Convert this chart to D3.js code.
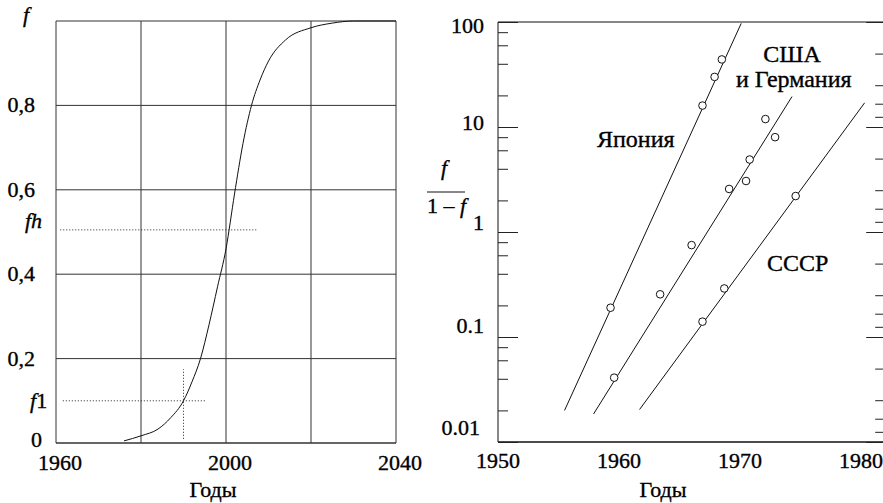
<!DOCTYPE html>
<html>
<head>
<meta charset="utf-8">
<script src="https://cdn.jsdelivr.net/npm/d3@7"></script>
<style>
  body { margin: 0; background: #fff; }
  svg { display: block; font-family: "Liberation Serif", "DejaVu Serif", serif; }
  text { fill: #000; stroke: #000; stroke-width: 0.35px; }
</style>
</head>
<body>
<div id="chart"></div>
<script>
// Left panel: logistic substitution curve
const gridYears = [1960, 1980, 2000, 2020, 2040];
const yearLabels = [1960, 2000, 2040];
const gridF = [0, 0.2, 0.4, 0.6, 0.8, 1];
const fLabels = [
  { v: 0.8, t: "0,8" },
  { v: 0.6, t: "0,6" },
  { v: 0.4, t: "0,4" },
  { v: 0.2, t: "0,2" },
  { v: 0, t: "0" }
];
const curveYears = [1976, 1980, 1984, 1987, 1990, 1992, 1994, 1996, 1998, 2000, 2002, 2004, 2006, 2008, 2010, 2014, 2020, 2025, 2030, 2040];
const curveF = [0.005, 0.017, 0.033, 0.06, 0.10, 0.145, 0.20, 0.28, 0.37, 0.46, 0.59, 0.71, 0.80, 0.86, 0.905, 0.955, 0.984, 0.995, 1.0, 1.0];
const fhLine = [[1961, 0.505], [2007.3, 0.505]];
const f1Line = [[1961.6, 0.1], [1995.3, 0.1]];
const f1Drop = [[1990, 0.01], [1990, 0.175]];

// Right panel: f/(1-f) on log scale
const logMajor = [0.01, 0.1, 1, 10, 100];
const logLabels = ["0.01", "0.1", "1", "10", "100"];
const minorMult = [2, 4, 6, 8];
const decadeLabels = [1950, 1960, 1970, 1980];

const japanYears = [1959.3, 1966.9, 1967.9, 1968.5];
const japanValues = [0.19, 16, 30, 44];
const usaYears = [1959.6, 1963.4, 1966.0, 1969.1, 1970.5, 1970.8, 1972.1, 1972.9];
const usaValues = [0.041, 0.255, 0.75, 2.57, 3.06, 4.9, 11.9, 8];
const ussrYears = [1966.9, 1968.7, 1974.6];
const ussrValues = [0.14, 0.29, 2.2];

const japanFit = [[1955.5, 0.02], [1970.1, 97]];
const usaFit = [[1957.9, 0.0185], [1974.3, 19.5]];
const ussrFit = [[1961.7, 0.0204], [1980.3, 17]];

const W = 883, H = 503;
const svg = d3.select("#chart").append("svg")
  .attr("width", W).attr("height", H);

const FS = 22;   // numbers
const NS = 24;   // names

// ---------- left panel ----------
const xL = d3.scaleLinear().domain([1960, 2040]).range([56, 396]);
const yL = d3.scaleLinear().domain([0, 1]).range([443, 21]);
const left = svg.append("g");

left.selectAll(".vgrid").data(gridYears).enter().append("line")
  .attr("x1", d => xL(d)).attr("x2", d => xL(d))
  .attr("y1", yL(0)).attr("y2", yL(1))
  .attr("stroke", "#333").attr("stroke-width", 1);
left.selectAll(".hgrid").data(gridF).enter().append("line")
  .attr("x1", xL(1960)).attr("x2", xL(2040))
  .attr("y1", d => yL(d)).attr("y2", d => yL(d))
  .attr("stroke", "#333").attr("stroke-width", d => d === 0 ? 1.6 : 1);

const dotted = (pts) => left.append("path")
  .attr("d", d3.line().x(d => xL(d[0])).y(d => yL(d[1]))(pts))
  .attr("fill", "none").attr("stroke", "#222").attr("stroke-width", 1)
  .attr("stroke-dasharray", "1,2");
dotted(fhLine);
dotted(f1Line);
dotted(f1Drop);

left.append("path")
  .attr("d", d3.line().x((d, i) => xL(curveYears[i])).y(d => yL(d))
    .curve(d3.curveMonotoneX)(curveF))
  .attr("fill", "none").attr("stroke", "#111").attr("stroke-width", 1);

left.selectAll(".ylab").data(fLabels).enter().append("text")
  .attr("x", d => d.v === 0 ? 42 : 35)
  .attr("y", d => yL(d.v) + (d.v === 0 ? 4 : 7))
  .attr("text-anchor", "end").style("font-size", FS + "px")
  .text(d => d.t);

left.append("text").attr("x", 23).attr("y", 22)
  .style("font-size", FS + "px").style("font-style", "italic").text("f");
left.append("text").attr("x", 25).attr("y", 228)
  .style("font-size", FS + "px").style("font-style", "italic").text("fh");
const f1t = left.append("text").attr("x", 30).attr("y", 408).style("font-size", FS + "px");
f1t.append("tspan").style("font-style", "italic").text("f");
f1t.append("tspan").text("1");

left.selectAll(".xlab").data(yearLabels).enter().append("text")
  .attr("x", d => xL(d) + 4).attr("y", 470)
  .attr("text-anchor", "middle").style("font-size", FS + "px")
  .text(d => d);
left.append("text").attr("x", 213).attr("y", 497)
  .attr("text-anchor", "middle").style("font-size", FS + "px").text("Годы");

// ---------- right panel ----------
const xR = d3.scaleLinear().domain([1950, 1982]).range([498, 885.2]);
const yR = d3.scaleLog().domain([0.01, 100]).range([442, 22]);
const right = svg.append("g");

// frame
right.append("line").attr("x1", xR(1950)).attr("x2", xR(1950))
  .attr("y1", yR(0.01)).attr("y2", yR(100)).attr("stroke", "#111");
right.append("line").attr("x1", xR(1950)).attr("x2", xR(1982))
  .attr("y1", yR(100)).attr("y2", yR(100)).attr("stroke", "#111");
right.append("line").attr("x1", xR(1950)).attr("x2", xR(1982))
  .attr("y1", yR(0.01)).attr("y2", yR(0.01)).attr("stroke", "#111").attr("stroke-width", 1.6);

const leftMinor = [];
const rightMinor = [];
logMajor.slice(0, -1).forEach(b => {
  minorMult.forEach(m => {
    leftMinor.push(b * m);
    rightMinor.push(b * 10 / m);
  });
});

right.append("g").attr("transform", `translate(${xR(1950)},0)`)
  .call(d3.axisRight(yR).tickValues(logMajor).tickSize(20).tickFormat(""))
  .call(g => g.select(".domain").remove());
right.append("g").attr("transform", `translate(${xR(1950)},0)`)
  .call(d3.axisRight(yR).tickValues(leftMinor).tickSize(10).tickFormat(""))
  .call(g => g.select(".domain").remove());
right.append("g").attr("transform", `translate(${xR(1982)},0)`)
  .call(d3.axisLeft(yR).tickValues(logMajor).tickSize(19).tickFormat(""))
  .call(g => g.select(".domain").remove());
right.append("g").attr("transform", `translate(${xR(1982)},0)`)
  .call(d3.axisLeft(yR).tickValues(rightMinor).tickSize(10).tickFormat(""))
  .call(g => g.select(".domain").remove());
right.selectAll(".tick line").attr("stroke", "#222");

// fitted lines
[japanFit, usaFit, ussrFit].forEach(fit => {
  right.append("path")
    .attr("d", d3.line().x(d => xR(d[0])).y(d => yR(d[1]))(fit))
    .attr("fill", "none").attr("stroke", "#111").attr("stroke-width", 1);
});

// observed points
const series = [
  [japanYears, japanValues],
  [usaYears, usaValues],
  [ussrYears, ussrValues]
];
series.forEach(([yrs, vals]) => {
  right.selectAll(null).data(vals).enter().append("circle")
    .attr("cx", (d, i) => xR(yrs[i])).attr("cy", d => yR(d))
    .attr("r", 3.8).attr("fill", "#fff")
    .attr("stroke", "#111").attr("stroke-width", 1);
});

// y tick labels
const labOffset = [-7, -4, -2, 3, 11];
right.selectAll(".rylab").data(logMajor).enter().append("text")
  .attr("x", (d, i) => i === 0 ? 480 : 484)
  .attr("y", (d, i) => yR(d) + labOffset[i])
  .attr("text-anchor", "end").style("font-size", FS + "px")
  .text((d, i) => logLabels[i]);

// x labels
right.selectAll(".rxlab").data(decadeLabels).enter().append("text")
  .attr("x", d => xR(d)).attr("y", 468)
  .attr("text-anchor", "middle").style("font-size", FS + "px")
  .text(d => d);
right.append("text").attr("x", 663).attr("y", 497)
  .attr("text-anchor", "middle").style("font-size", FS + "px").text("Годы");

// y title f / (1 - f)
right.append("text").attr("x", 444).attr("y", 175)
  .attr("text-anchor", "middle").style("font-size", FS + "px")
  .style("font-style", "italic").text("f");
right.append("line").attr("x1", 427).attr("x2", 465)
  .attr("y1", 192).attr("y2", 192).attr("stroke", "#111");
const den = right.append("text").attr("x", 427).attr("y", 213).style("font-size", FS + "px");
den.append("tspan").text("1 – ");
den.append("tspan").style("font-style", "italic").text("f");

// series names
const nameStyle = t => t.style("font-size", NS + "px");
right.append("text").attr("x", 597).attr("y", 147).call(nameStyle).text("Япония");
right.append("text").attr("x", 792).attr("y", 62).attr("text-anchor", "middle").call(nameStyle).text("США");
right.append("text").attr("x", 736).attr("y", 87).call(nameStyle).text("и Германия");
right.append("text").attr("x", 767).attr("y", 271).call(nameStyle).text("СССР");
</script>
</body>
</html>
